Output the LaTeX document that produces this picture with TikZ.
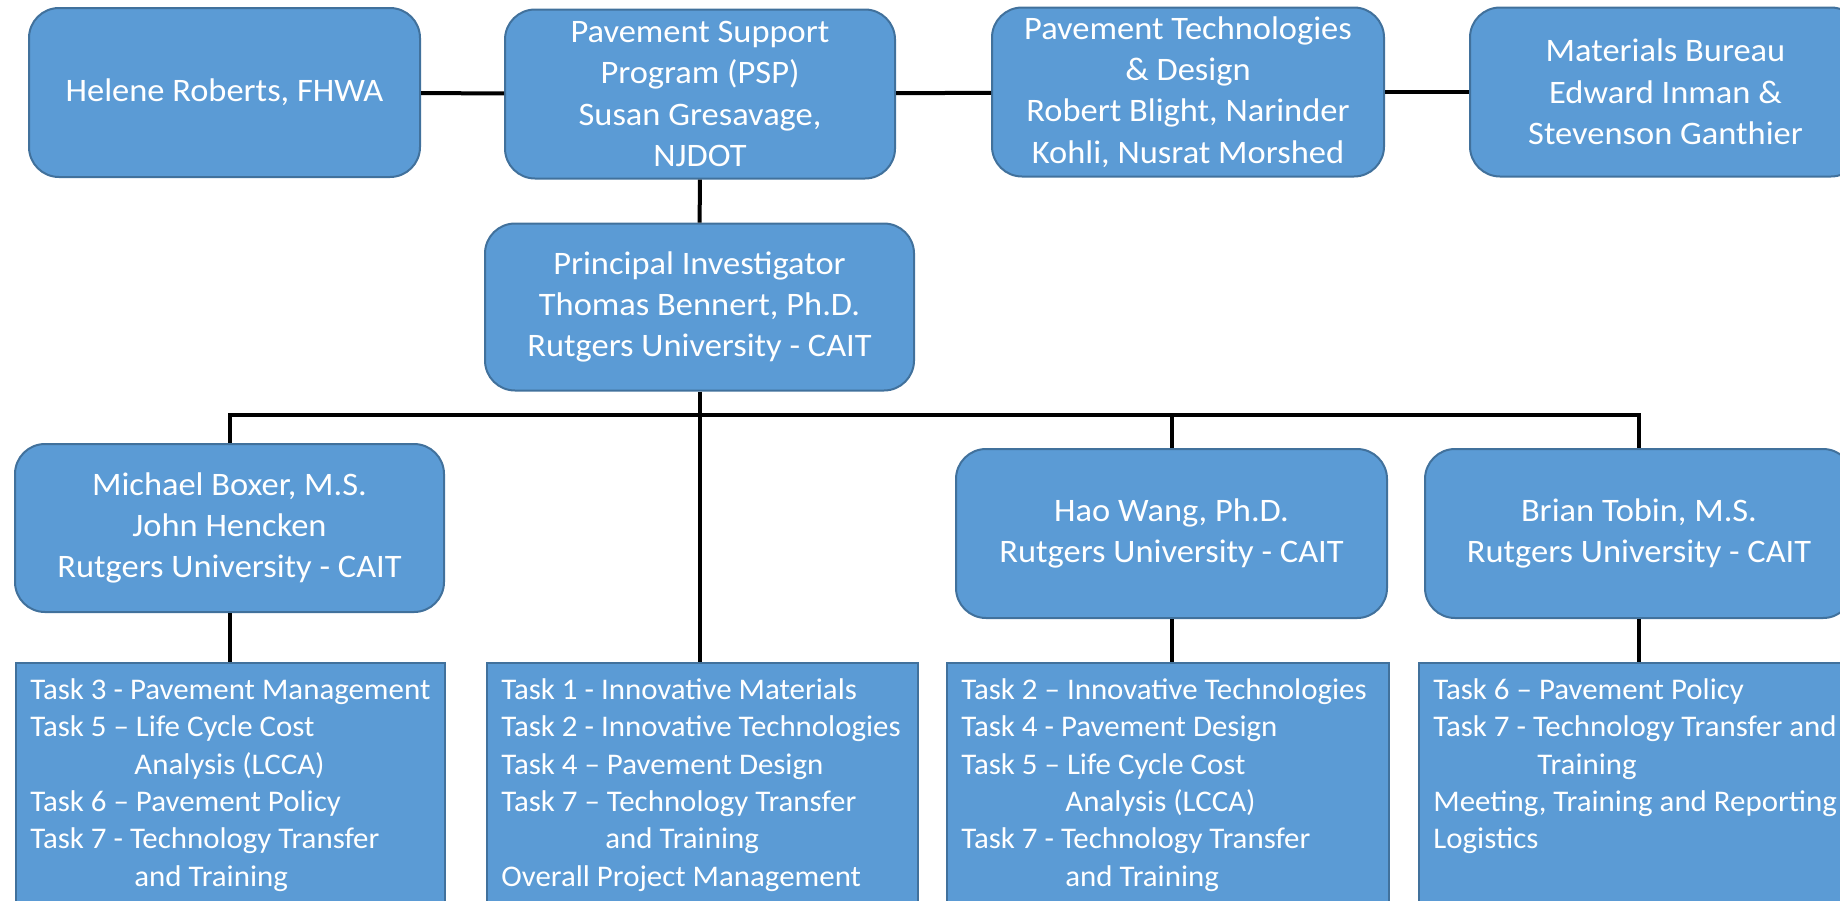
\documentclass[tikz,border=0pt]{standalone}
\usepackage{fontspec}
\setmainfont{Carlito}
\newfontfamily\unitfont[FakeStretch=1.05]{Carlito}
\newfontfamily\taskfont[FakeStretch=1.03]{Carlito}
\definecolor{boxblue}{HTML}{5B9BD5}
\definecolor{boxline}{HTML}{41719C}
\tikzset{
  boxsize/.style 2 args={minimum width=#1*0.5pt, minimum height=#2*0.5pt},
  unit/.style={draw=boxline, fill=boxblue, line width=1pt, rounded corners=15pt,
    text=white, align=center, inner sep=0pt, font=\unitfont\fontsize{16.4}{20.7}\selectfont},
  taskbox/.style={draw=boxline, fill=boxblue, line width=1pt, anchor=north west, inner sep=0pt},
  tasktext/.style={text=white, align=left, anchor=north west, inner sep=0pt,
    font=\taskfont\fontsize{15}{18.7}\selectfont},
  link/.style={line width=2pt, black}
}
\newcommand{\hang}{\hspace*{52pt}}

\begin{document}
\begin{tikzpicture}[x=0.5pt,y=-0.5pt]
\useasboundingbox (0,0) rectangle (1840,900);
\clip (0,0) rectangle (1840,900);

% top row
\node[unit, boxsize={391}{169}] (helene) at (224.5,92.5) {Helene Roberts, FHWA};
\node[unit, boxsize={390}{169}] (psp) at (700,94) {Pavement Support\\Program (PSP)\\Susan Gresavage,\\NJDOT};
\node[unit, boxsize={392}{169}] (ptd) at (1188,92) {Pavement Technologies\\\& Design\\Robert Blight, Narinder\\Kohli, Nusrat Morshed};
\node[unit, boxsize={391}{169}] (mat) at (1665.5,92) {Materials Bureau\\Edward Inman \&\\Stevenson Ganthier};

% principal investigator
\node[unit, boxsize={429}{167}] (pi) at (699.5,307) {Principal Investigator\\Thomas Bennert, Ph.D.\\Rutgers University - CAIT};

% team leads
\node[unit, boxsize={429}{168}] (boxer) at (229.5,528) {Michael Boxer, M.S.\\John Hencken\\Rutgers University - CAIT};
\node[unit, boxsize={431}{169}] (wang) at (1171.5,533.5) {Hao Wang, Ph.D.\\Rutgers University - CAIT};
\node[unit, boxsize={428}{169}] (tobin) at (1639,533.5) {Brian Tobin, M.S.\\Rutgers University - CAIT};

% task lists
\node[taskbox, boxsize={429}{260}] (t1) at (15,662) {};
\node[taskbox, boxsize={431}{260}] (t2) at (486,662) {};
\node[taskbox, boxsize={442}{260}] (t3) at (946,662) {};
\node[taskbox, boxsize={442}{260}] (t4) at (1418,662) {};

\node[tasktext] (t1txt) at ([shift={(15,16)}]t1.north west) {Task 3 - Pavement Management\\Task 5 – Life Cycle Cost\\\hang Analysis (LCCA)\\Task 6 – Pavement Policy\\Task 7 - Technology Transfer\\\hang and Training};
\node[tasktext] (t2txt) at ([shift={(15,16)}]t2.north west) {Task 1 - Innovative Materials\\Task 2 - Innovative Technologies\\Task 4 – Pavement Design\\Task 7 – Technology Transfer\\\hang and Training\\Overall Project Management};
\node[tasktext] (t3txt) at ([shift={(15,16)}]t3.north west) {Task 2 – Innovative Technologies\\Task 4 - Pavement Design\\Task 5 – Life Cycle Cost\\\hang Analysis (LCCA)\\Task 7 - Technology Transfer\\\hang and Training};
\node[tasktext] (t4txt) at ([shift={(15,16)}]t4.north west) {Task 6 – Pavement Policy\\Task 7 - Technology Transfer and\\\hang Training\\Meeting, Training and Reporting\\Logistics};

% connectors
\draw[link] (helene) -- (psp);
\draw[link] (psp) -- (ptd);
\draw[link] (ptd) -- (mat);
\draw[link] (psp) -- (pi);
\draw[link] (pi.south) -- (pi.south |- t2.north);
\coordinate (bus) at (0,415);
\draw[link] (boxer.north) -- (boxer.north |- bus) -- (tobin.north |- bus) -- (tobin.north);
\draw[link] (wang.north) -- (wang.north |- bus);
\foreach \a/\b in {boxer/t1, wang/t3, tobin/t4}
  \draw[link] (\a.south) -- (\a.south |- \b.north);
\end{tikzpicture}
\end{document}
